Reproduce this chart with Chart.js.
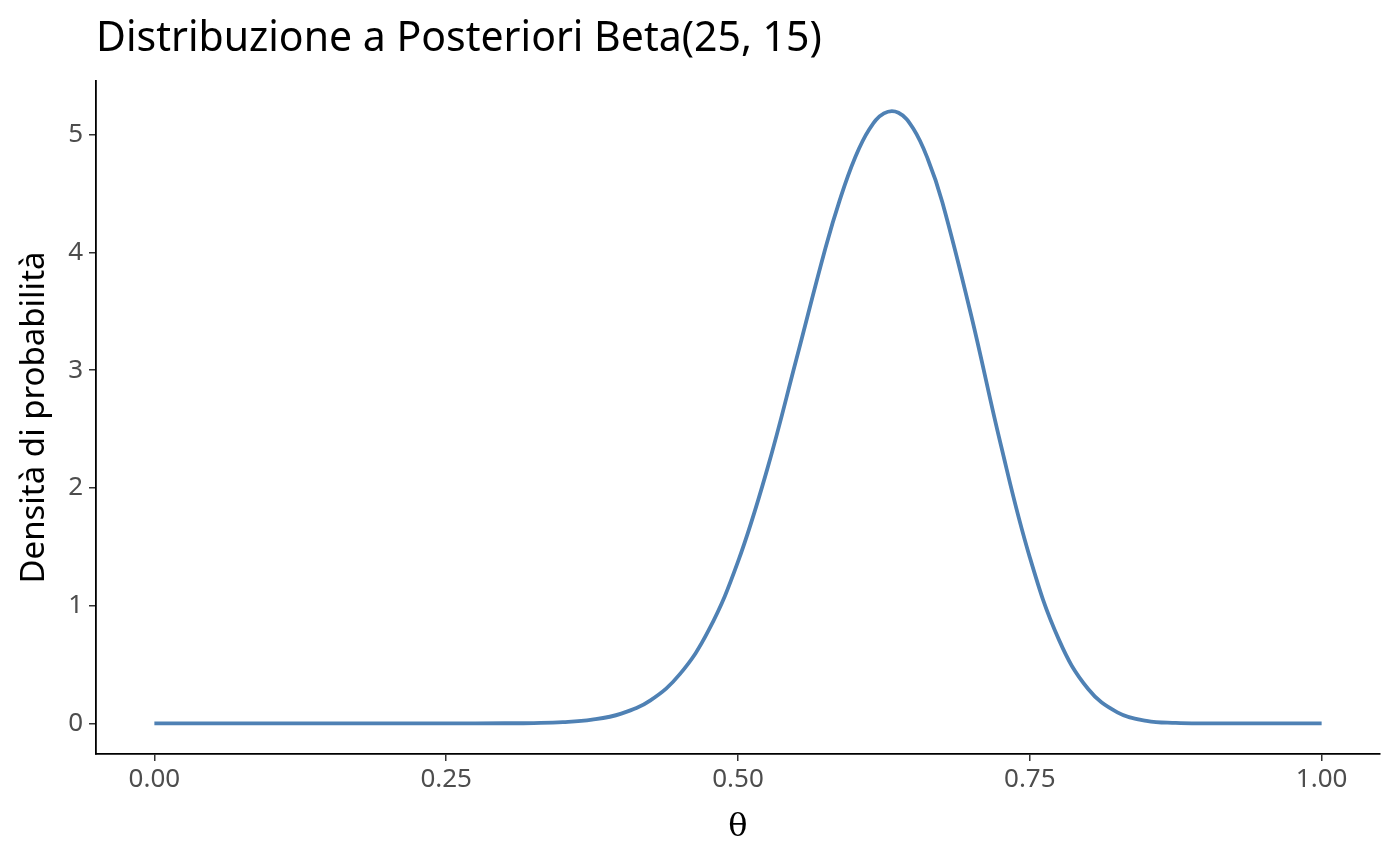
<!DOCTYPE html>
<html>
<head>
<meta charset="utf-8">
<script src="https://cdn.jsdelivr.net/npm/chart.js@4/dist/chart.umd.min.js"></script>
<style>
  html, body { margin: 0; padding: 0; background: #fff; }
  #wrap { width: 1400px; height: 865px; position: relative; }
</style>
</head>
<body>
<div id="wrap"><canvas id="myChart" width="1400" height="865"></canvas></div>
<script>
// valori
var titolo = "Distribuzione a Posteriori Beta(25, 15)";
var theta = [0, 0.05, 0.10, 0.15, 0.20, 0.25, 0.30, 0.325, 0.35, 0.375, 0.40, 0.425, 0.45, 0.475,
             0.50, 0.525, 0.55, 0.575, 0.5875, 0.60, 0.6125, 0.625, 0.6375, 0.65, 0.6625,
             0.675, 0.70, 0.725, 0.75, 0.775, 0.80, 0.825, 0.85, 0.875, 0.90, 0.95, 1.00];
var densita = [0, 0, 0, 0, 0, 0, 0.001, 0.003, 0.010, 0.031, 0.083, 0.196, 0.416, 0.793,
               1.373, 2.157, 3.092, 4.039, 4.454, 4.797, 5.045, 5.180, 5.185, 5.053, 4.795,
               4.428, 3.455, 2.372, 1.410, 0.709, 0.292, 0.094, 0.022, 0.004, 0.000, 0, 0];
var xTicks = [0, 0.25, 0.5, 0.75, 1];
var yTicks = [0, 1, 2, 3, 4, 5];

var punti = [];
for (let i = 0; i < theta.length; i++) {
    punti.push({x: theta[i], y: densita[i]});
}

var fontFam = "'Noto Sans', 'Open Sans', sans-serif";

// titolo allineato a sinistra dell'area del grafico
var titoloPlugin = {
    id: 'titoloPlugin',
    afterDraw: function(chart) {
        var ctx = chart.ctx;
        ctx.save();
        ctx.fillStyle = '#000';
        ctx.font = "41px " + fontFam;
        ctx.textBaseline = 'alphabetic';
        ctx.fillText(titolo, chart.chartArea.left, 51);
        ctx.restore();
    }
};

new Chart("myChart", {
    type: "line",
    data: {
        datasets: [{
            data: punti,
            borderColor: "#4F81B4",
            borderWidth: 3.8,
            pointRadius: 0,
            fill: false,
            tension: 0.4
        }]
    },
    options: {
        responsive: false,
        animation: false,
        layout: { padding: { top: 81, right: 20, left: 0, bottom: 0 } },
        plugins: {
            legend: { display: false },
            tooltip: { enabled: false }
        },
        scales: {
            x: {
                type: 'linear',
                min: -0.05,
                max: 1.05,
                afterBuildTicks: function(scale) {
                    scale.ticks = xTicks.map(v => ({value: v}));
                },
                afterFit: function(scale) { scale.height = 111; },
                grid: { drawOnChartArea: false, drawTicks: true, tickLength: 7, color: '#333', lineWidth: 1.5 },
                border: { display: true, color: '#000', width: 1.8 },
                ticks: {
                    color: '#4d4d4d',
                    font: { family: fontFam, size: 26 },
                    padding: 3,
                    maxRotation: 0,
                    callback: function(v) { return Number(v).toFixed(2); }
                },
                title: {
                    display: true,
                    text: 'θ',
                    color: '#000',
                    font: { family: "'DejaVu Serif', 'Liberation Serif', serif", size: 32 },
                    padding: { top: 0, bottom: 18 }
                }
            },
            y: {
                type: 'linear',
                min: -0.26,
                max: 5.455,
                afterBuildTicks: function(scale) {
                    scale.ticks = yTicks.map(v => ({value: v}));
                },
                afterFit: function(scale) { scale.width = 96; },
                grid: { drawOnChartArea: false, drawTicks: true, tickLength: 7, color: '#333', lineWidth: 1.5 },
                border: { display: true, color: '#000', width: 1.8 },
                ticks: {
                    color: '#4d4d4d',
                    font: { family: fontFam, size: 26 },
                    padding: 6
                },
                title: {
                    display: true,
                    text: 'Densità di probabilità',
                    color: '#000',
                    font: { family: fontFam, size: 33 },
                    padding: { top: 15, bottom: 0 }
                }
            }
        }
    },
    plugins: [titoloPlugin]
});
</script>
</body>
</html>
